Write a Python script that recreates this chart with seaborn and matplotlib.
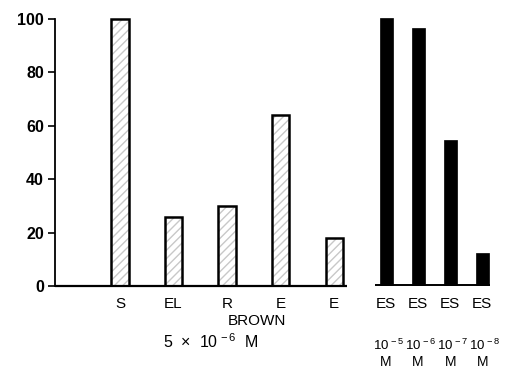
import matplotlib
matplotlib.use("Agg")
import matplotlib.pyplot as plt
import matplotlib.transforms as mtrans
import numpy as np
import pandas as pd
import seaborn as sns

# ---- data ----
brown_labels = ["S", "EL", "R", "E", "E"]
brown_values = [100, 26, 30, 64, 18]
es_labels = ["ES", "ES", "ES", "ES"]
es_values = [100.5, 96.5, 54.5, 12.5]
es_conc = ["$10^{\\,-5}$", "$10^{\\,-6}$", "$10^{\\,-7}$", "$10^{\\,-8}$"]
yticks = [0, 20, 40, 60, 80, 100]
group_label = "BROWN"
conc_label = r"5  $\times$  10$^{\,-6}$  M"

sns.set_style("ticks")
plt.rcParams["font.family"] = ["Liberation Sans", "DejaVu Sans"]
plt.rcParams["mathtext.fontset"] = "custom"
plt.rcParams["mathtext.rm"] = "Liberation Sans"
plt.rcParams["mathtext.it"] = "Liberation Sans"
plt.rcParams["mathtext.bf"] = "Liberation Sans:bold"
plt.rcParams["text.color"] = "black"
plt.rcParams["xtick.color"] = "black"
plt.rcParams["ytick.color"] = "black"
plt.rcParams["axes.edgecolor"] = "black"

W, H = 513, 368
fig = plt.figure(figsize=(W / 100, H / 100), dpi=100)
x0, x1 = 55, 500
y0, ytop = 286, 286 - 102 * 2.67
ax = fig.add_axes([x0 / W, 1 - y0 / H, (x1 - x0) / W, (y0 - ytop) / H])

# positions (layout)
brown_pos = np.arange(1, len(brown_values) + 1, dtype=float)
es_pos = 5.97 + 0.6 * np.arange(len(es_values))

df_b = pd.DataFrame({"pos": brown_pos, "val": brown_values})
df_e = pd.DataFrame({"pos": es_pos, "val": es_values})

# hatched fill (faint)
sns.barplot(data=df_b, x="pos", y="val", native_scale=True, width=0.32,
            color="white", edgecolor="#c8c8c8", linewidth=0, ax=ax,
            errorbar=None, saturation=1)
for p in ax.patches:
    p.set_hatch("////")
# outline
sns.barplot(data=df_b, x="pos", y="val", native_scale=True, width=0.32,
            fill=False, edgecolor="black", linewidth=1.8, ax=ax,
            errorbar=None)
# black bars
sns.barplot(data=df_e, x="pos", y="val", native_scale=True, width=0.405,
            color="black", edgecolor="black", linewidth=0.5, ax=ax,
            errorbar=None, saturation=1)

ax.set_xlim(-0.215, 8.1)
ax.set_ylim(0, 102)
ax.set_xlabel("")
ax.set_ylabel("")

ax.spines["top"].set_visible(False)
ax.spines["right"].set_visible(False)
ax.spines["bottom"].set_visible(False)
ax.spines["left"].set_bounds(0, 100)
ax.spines["left"].set_linewidth(1.3)

ax.set_yticks(yticks)
ax.set_yticklabels([str(v) for v in yticks], fontsize=11.5, fontweight="bold")
ax.tick_params(axis="y", direction="out", length=5, width=1.2, pad=3)

# baselines
ax.hlines(0, -0.215, brown_pos[-1] + 0.25, color="black", lw=1.6, clip_on=False)
ax.hlines(0.5, es_pos[0] - 0.2, es_pos[-1] + 0.15, color="black", lw=1.4, clip_on=False)

# x labels
ax.set_xticks(list(brown_pos) + list(es_pos))
ax.set_xticklabels(brown_labels + es_labels, fontsize=11)
ax.tick_params(axis="x", length=0, pad=8)

tr = mtrans.blended_transform_factory(ax.transData, fig.transFigure)
ax.text(3.56, 1 - 321 / H, group_label, transform=tr, ha="center", va="center", fontsize=11)
ax.text(2.7, 1 - 342 / H, conc_label, transform=tr, ha="center", va="center", fontsize=11.5)
for xp, c in zip(es_pos, es_conc):
    ax.text(xp + 0.05, 1 - 345 / H, c, transform=tr, ha="center", va="center", fontsize=9.5)
    ax.text(xp, 1 - 362 / H, "M", transform=tr, ha="center", va="center", fontsize=10)

fig.savefig("out.png", dpi=100)
